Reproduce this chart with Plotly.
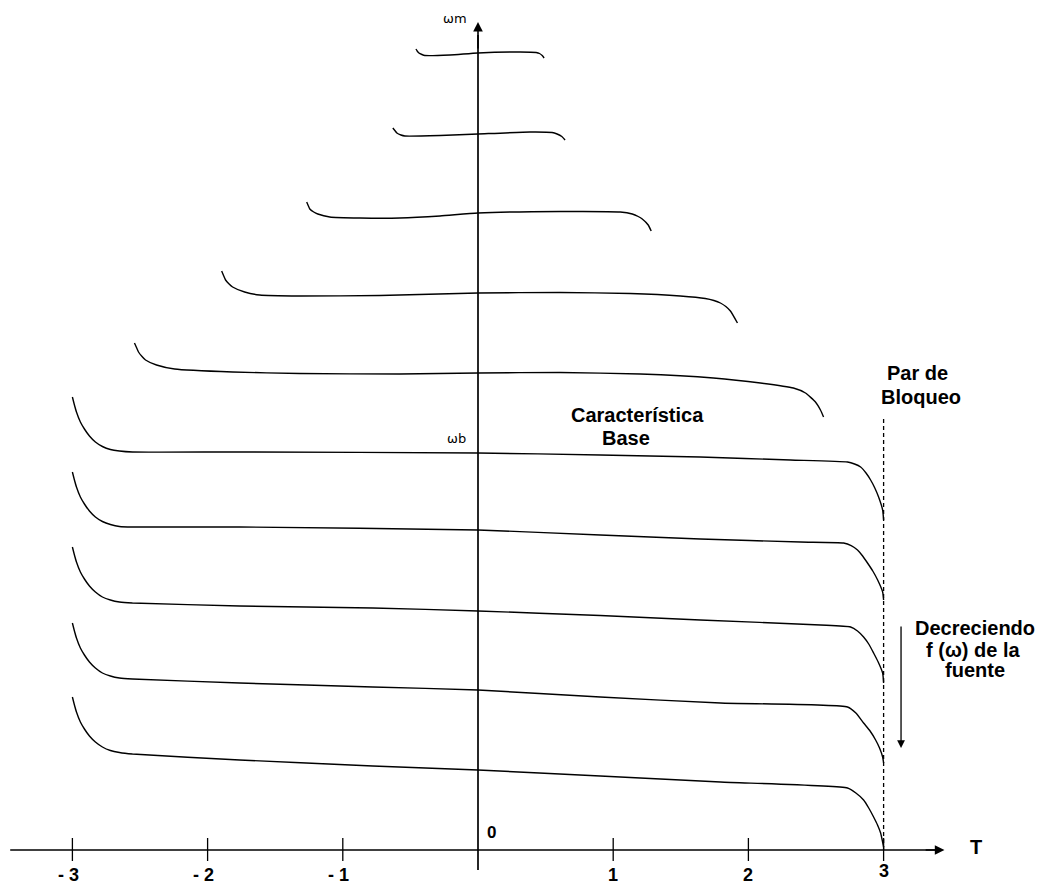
import plotly.graph_objects as go

# ---- data: torque T (per-unit) vs speed wm (arbitrary units) for each source frequency ----
c1_T = [-0.459, -0.450, -0.437, -0.415, -0.393, -0.207, 0.0, 0.311, 0.430, 0.455, 0.475, 0.489]
c1_w = [8.01, 7.99, 7.97, 7.955, 7.945, 7.95, 7.97, 7.98, 7.975, 7.965, 7.945, 7.92]

c2_T = [-0.630, -0.615, -0.600, -0.570, -0.541, -0.281, 0.0, 0.385, 0.548, 0.585, 0.620, 0.644]
c2_w = [7.22, 7.195, 7.17, 7.15, 7.14, 7.145, 7.16, 7.18, 7.175, 7.16, 7.135, 7.10]

c3_T = [-1.267, -1.256, -1.244, -1.215, -1.185, -1.096, -0.874, -0.578, -0.281, 0.0, 0.607, 1.052, 1.141, 1.185, 1.215, 1.259, 1.281]
c3_w = [6.48, 6.445, 6.41, 6.38, 6.36, 6.33, 6.32, 6.32, 6.34, 6.37, 6.385, 6.38, 6.36, 6.335, 6.31, 6.25, 6.19]

c4_T = [-1.896, -1.882, -1.867, -1.841, -1.815, -1.726, -1.615, -1.319, -0.726, 0.0, 0.607, 1.126, 1.496, 1.681, 1.745, 1.793, 1.833, 1.867, 1.919]
c4_w = [5.79, 5.745, 5.70, 5.66, 5.63, 5.58, 5.55, 5.54, 5.545, 5.57, 5.575, 5.565, 5.54, 5.515, 5.495, 5.47, 5.435, 5.39, 5.27]

c5_T = [-2.541, -2.526, -2.511, -2.485, -2.459, -2.378, -2.244, -1.815, -1.319, -0.578, 0.0, 0.607, 1.200, 1.741, 2.089, 2.333, 2.422, 2.496, 2.533, 2.556]
c5_w = [5.07, 5.025, 4.98, 4.935, 4.90, 4.85, 4.81, 4.78, 4.765, 4.76, 4.77, 4.775, 4.76, 4.72, 4.67, 4.62, 4.57, 4.48, 4.40, 4.33]

c6_T = [-3.0, -2.985, -2.970, -2.941, -2.911, -2.874, -2.830, -2.778, -2.719, -2.652, -2.556, -1.763, 0.0, 0.904, 1.644, 2.311, 2.733, 2.785, 2.830, 2.870, 2.904, 2.935, 2.963, 2.993, 3.0]
c6_w = [4.53, 4.45, 4.38, 4.28, 4.21, 4.14, 4.08, 4.035, 4.005, 3.99, 3.98, 3.98, 3.97, 3.95, 3.93, 3.90, 3.88, 3.86, 3.83, 3.77, 3.70, 3.62, 3.53, 3.40, 3.30]

c7_T = [-3.0, -2.985, -2.970, -2.941, -2.911, -2.874, -2.830, -2.778, -2.719, -2.652, -2.556, -1.763, 0.0, 0.904, 1.644, 2.385, 2.704, 2.760, 2.807, 2.845, 2.881, 2.920, 2.956, 2.993, 3.0]
c7_w = [3.78, 3.70, 3.63, 3.53, 3.46, 3.39, 3.33, 3.285, 3.255, 3.235, 3.23, 3.23, 3.20, 3.15, 3.11, 3.08, 3.07, 3.045, 3.00, 2.94, 2.87, 2.79, 2.70, 2.58, 2.50]

c8_T = [-3.0, -2.985, -2.970, -2.941, -2.911, -2.874, -2.830, -2.778, -2.719, -2.652, -2.556, -1.763, -0.778, 0.0, 0.904, 1.644, 2.533, 2.756, 2.807, 2.852, 2.890, 2.926, 2.960, 2.993, 3.0]
c8_w = [3.03, 2.95, 2.88, 2.78, 2.71, 2.64, 2.58, 2.53, 2.50, 2.48, 2.47, 2.44, 2.42, 2.39, 2.345, 2.30, 2.25, 2.23, 2.19, 2.13, 2.06, 1.97, 1.88, 1.77, 1.67]

c9_T = [-3.0, -2.985, -2.970, -2.941, -2.911, -2.874, -2.830, -2.778, -2.719, -2.652, -2.556, -1.763, -0.778, 0.0, 0.904, 1.793, 2.733, 2.795, 2.852, 2.900, 2.941, 2.970, 2.993, 3.0]
c9_w = [2.27, 2.19, 2.12, 2.02, 1.95, 1.88, 1.82, 1.77, 1.74, 1.72, 1.71, 1.67, 1.63, 1.60, 1.53, 1.47, 1.43, 1.37, 1.27, 1.19, 1.10, 1.02, 0.93, 0.87]

c10_T = [-3.0, -2.985, -2.970, -2.941, -2.911, -2.874, -2.830, -2.778, -2.719, -2.652, -2.556, -1.763, -0.778, 0.0, 0.904, 1.793, 2.733, 2.795, 2.852, 2.890, 2.926, 2.955, 2.978, 3.0]
c10_w = [1.53, 1.45, 1.38, 1.28, 1.21, 1.14, 1.08, 1.03, 0.995, 0.975, 0.96, 0.90, 0.84, 0.80, 0.74, 0.68, 0.62, 0.57, 0.50, 0.42, 0.33, 0.25, 0.17, 0.03]

curves = [(c1_T, c1_w), (c2_T, c2_w), (c3_T, c3_w), (c4_T, c4_w), (c5_T, c5_w),
          (c6_T, c6_w), (c7_T, c7_w), (c8_T, c8_w), (c9_T, c9_w), (c10_T, c10_w)]

tick_vals = [-3, -2, -1, 1, 2, 3]
tick_text = ["- 3", "- 2", "- 1", "1", "2", "3"]

w_base = 3.97        # base speed (Característica Base)
T_lock = 3.0         # Par de Bloqueo
lock_top = 4.31

BOLD = "Liberation Sans Narrow, Liberation Sans, Arial, sans-serif"

fig = go.Figure()
for T, w in curves:
    fig.add_trace(go.Scatter(x=T, y=w, mode="lines",
                             line=dict(color="black", width=1.4, shape="spline", smoothing=0.5),
                             hoverinfo="skip", showlegend=False))

shapes = []
# x axis line
shapes.append(dict(type="line", xref="x", yref="y", x0=-3.46, x1=3.40, y0=0, y1=0,
                   line=dict(color="black", width=1.7)))
# y axis line
shapes.append(dict(type="line", xref="x", yref="y", x0=0, x1=0, y0=-0.2, y1=8.15,
                   line=dict(color="black", width=1.7)))
# ticks
for t in tick_vals:
    shapes.append(dict(type="line", xref="x", yref="y", x0=t, x1=t, y0=-0.11, y1=0.12,
                       line=dict(color="black", width=1.3)))
# locked rotor torque dashed line
shapes.append(dict(type="line", xref="x", yref="y", x0=T_lock, x1=T_lock, y0=0, y1=lock_top,
                   line=dict(color="black", width=1.3, dash="4px,3px")))

ann = []
# axis arrows
ann.append(dict(x=3.45, y=0, ax=3.30, ay=0, xref="x", yref="y", axref="x", ayref="y",
                text="", showarrow=True, arrowhead=2, arrowsize=1.2, arrowwidth=1.6, arrowcolor="black"))
ann.append(dict(x=0, y=8.28, ax=0, ay=8.0, xref="x", yref="y", axref="x", ayref="y",
                text="", showarrow=True, arrowhead=2, arrowsize=1.2, arrowwidth=1.6, arrowcolor="black"))
# decreasing frequency arrow
ann.append(dict(x=3.129, y=1.02, ax=3.129, ay=2.25, xref="x", yref="y", axref="x", ayref="y",
                text="", showarrow=True, arrowhead=2, arrowsize=1.2, arrowwidth=1.3, arrowcolor="black"))

# tick labels
for t, s in zip(tick_vals, tick_text):
    ann.append(dict(x=t - (0.03 if t < 0 else 0), y=(-0.21 if t == 3 else -0.25), xref="x", yref="y",
                    text="<b>%s</b>" % s, showarrow=False,
                    font=dict(family=BOLD, size=18, color="black"), xanchor="center", yanchor="middle"))

def label(x, y, s, size=20, fam=BOLD, bold=True):
    ann.append(dict(x=x, y=y, xref="x", yref="y", text=("<b>%s</b>" % s) if bold else s, showarrow=False,
                    font=dict(family=fam, size=size, color="black"), xanchor="center", yanchor="middle"))

label(0.10, 0.18, "0", size=17)
label(3.68, 0.03, "T", size=20)
label(-0.17, 8.32, "ωm", size=13, fam="DejaVu Sans", bold=False)
label(-0.16, 4.12, "ωb", size=13, fam="DejaVu Sans", bold=False)
label(1.176, 4.35, "Característica", size=20)
label(1.095, 4.12, "Base", size=20)
label(3.254, 4.77, "Par de", size=20)
label(3.277, 4.53, "Bloqueo", size=20)
label(3.676, 2.22, "Decreciendo", size=20)
label(3.661, 2.00, "f (ω) de la", size=20)
label(3.676, 1.80, "fuente", size=20)

fig.update_layout(
    width=1042, height=886,
    margin=dict(l=0, r=0, t=0, b=0),
    paper_bgcolor="white", plot_bgcolor="white",
    xaxis=dict(range=[-478 / 135.2, 564 / 135.2], visible=False, fixedrange=True),
    yaxis=dict(range=[-0.36, 8.50], visible=False, fixedrange=True),
    shapes=shapes, annotations=ann, showlegend=False,
)

fig.write_html("out.html", config={"displayModeBar": False})
